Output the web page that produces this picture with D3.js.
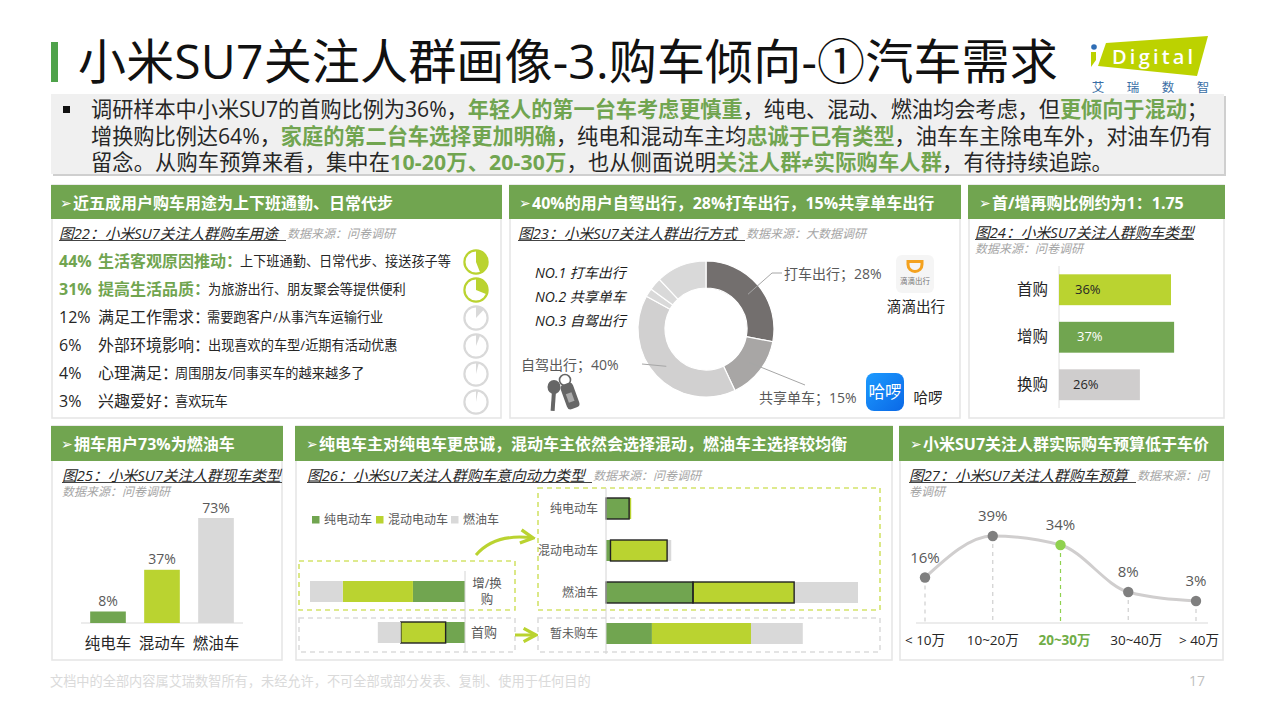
<!DOCTYPE html>
<html lang="zh-CN">
<head>
<meta charset="utf-8">
<title>小米SU7关注人群画像</title>
<script src="https://cdn.jsdelivr.net/npm/d3@7"></script>
<style>
  html, body { margin: 0; padding: 0; background: #fff; }
  svg { display: block; }
  text { font-family: "Open Sans", "Noto Sans CJK SC", sans-serif; dominant-baseline: central; }
</style>
</head>
<body>
<svg id="page" width="1267" height="713"></svg>
<script>
// ---- content ----
const pageTitle = "小米SU7关注人群画像-3.购车倾向-①汽车需求";
const summaryLines = [
  [["调研样本中小米SU7的首购比例为36%，", 0], ["年轻人的第一台车考虑更慎重", 1], ["，纯电、混动、燃油均会考虑，但", 0], ["更倾向于混动", 1], ["；", 0]],
  [["增换购比例达64%，", 0], ["家庭的第二台车选择更加明确", 1], ["，纯电和混动车主均", 0], ["忠诚于已有类型", 1], ["，油车车主除电车外，对油车仍有", 0]],
  [["留念。从购车预算来看，集中在", 0], ["10-20万、20-30万", 1], ["，也从侧面说明", 0], ["关注人群≠实际购车人群", 1], ["，有待持续追踪。", 0]]
];
const panelHeads = [
  "近五成用户购车用途为上下班通勤、日常代步",
  "40%的用户自驾出行，28%打车出行，15%共享单车出行",
  "首/增再购比例约为1：1.75",
  "拥车用户73%为燃油车",
  "纯电车主对纯电车更忠诚，混动车主依然会选择混动，燃油车主选择较均衡",
  "小米SU7关注人群实际购车预算低于车价"
];
const figureTitles = [
  "图22：小米SU7关注人群购车用途",
  "图23：小米SU7关注人群出行方式",
  "图24：小米SU7关注人群购车类型",
  "图25：小米SU7关注人群现车类型",
  "图26：小米SU7关注人群购车意向动力类型",
  "图27：小米SU7关注人群购车预算"
];
const sourceNotes = [
  ["数据来源：问卷调研"], ["数据来源：大数据调研"], ["数据来源：问卷调研"],
  ["数据来源：问卷调研"], ["数据来源：问卷调研"], ["数据来源：问", "卷调研"]
];

// purchase purposes
const purposeValues = [44, 31, 12, 6, 4, 3];
const purposeLabels = ["生活客观原因推动", "提高生活品质", "满足工作需求", "外部环境影响", "心理满足", "兴趣爱好"];
const purposeNotes = [
  "上下班通勤、日常代步、接送孩子等",
  "为旅游出行、朋友聚会等提供便利",
  "需要跑客户/从事汽车运输行业",
  "出现喜欢的车型/近期有活动优惠",
  "周围朋友/同事买车的越来越多了",
  "喜欢玩车"
];

// travel modes
const travelNames = ["打车出行", "共享单车", "自驾出行", "其他A", "其他B", "其他C"];
const travelValues = [28, 15, 40, 2, 3, 12];
const travelRanks = ["NO.1 打车出行", "NO.2 共享单车", "NO.3 自驾出行"];

// purchase type
const buyTypes = ["首购", "增购", "换购"];
const buyValues = [36, 37, 26];

// current car type
const ownTypes = ["纯电车", "混动车", "燃油车"];
const ownValues = [8, 37, 73];

// intended powertrain
const powerSeries = ["纯电动车", "混动电动车", "燃油车"];
const leftRows = ["增/换购", "首购"];
const leftElectric = [21.5, 8];
const leftHybrid = [29, 18.5];
const leftFuel = [13.5, 9.5];
const rightRows = ["纯电动车", "混动电动车", "燃油车", "暂未购车"];
const rightElectric = [6.7, 1.3, 25.2, 13.3];
const rightHybrid = [0.6, 16.4, 29.3, 28.7];
const rightFuel = [0, 1.2, 18.5, 15];

// budget
const budgetBands = ["< 10万", "10~20万", "20~30万", "30~40万", "> 40万"];
const budgetValues = [16, 39, 34, 8, 3];
const budgetFocus = "20~30万";

// ---- palette ----
const GREEN = "#71a550", LIME = "#bad330", GREY = "#d9d9d9", INK = "#262626", MUTED = "#595959";
const svg = d3.select("#page");

function label(parent, x, y, str, opts = {}) {
  return parent.append("text").attr("x", x).attr("y", y).text(str)
    .attr("font-size", opts.size || 14)
    .attr("font-weight", opts.weight || null)
    .attr("font-style", opts.italic ? "italic" : null)
    .attr("text-anchor", opts.anchor || null)
    .attr("fill", opts.fill || INK);
}

// Stretch a text's tracking so that it spans the given width.
function fitWidth(sel, width) {
  const node = sel.node();
  const gap = (width - node.getComputedTextLength()) / node.textContent.length;
  return sel.attr("letter-spacing", gap.toFixed(3));
}

// ---- page head ----
svg.append("rect").attr("x", 51).attr("y", 42).attr("width", 7).attr("height", 40).attr("fill", "#4ea24a");
fitWidth(label(svg, 78, 60, pageTitle, { size: 48, fill: "#111" }), 980);

// brand mark
const brand = svg.append("g");
brand.append("polygon").attr("points", "1106,43 1208,36 1197,76 1098,66").attr("fill", "#bcd200");
brand.append("circle").attr("cx", 1094).attr("cy", 47).attr("r", 2.8).attr("fill", "#2f6db5");
brand.append("polygon").attr("points", "1091,52 1096,52 1096,60 1091,67").attr("fill", "#bcd200");
label(brand, 1112, 56, "Digital", { size: 20, weight: 600, fill: "#fff" }).attr("letter-spacing", 3.2);
["艾", "瑞", "数", "智"].forEach((c, i) =>
  label(brand, d3.scaleLinear([0, 3], [1098, 1203])(i), 87, c, { size: 12.5, anchor: "middle", fill: "#3a6ea5" }));

// ---- summary box ----
svg.append("rect").attr("x", 53).attr("y", 96).attr("width", 1173).attr("height", 80).attr("fill", "#cfcfcf");
svg.append("rect").attr("x", 51).attr("y", 94).attr("width", 1173).attr("height", 80).attr("fill", "#f0f0f0");
svg.append("rect").attr("x", 63).attr("y", 106).attr("width", 7).attr("height", 7).attr("fill", "#111");
const summaryY = d3.scalePoint([0, 1, 2], [108, 161]);
const summaryWidths = [1117, 1121, 1022];
summaryLines.forEach((segments, i) => {
  const line = svg.append("text").attr("x", 91).attr("y", summaryY(i)).attr("font-size", 21.2).attr("fill", INK);
  segments.forEach(([str, strong]) => {
    line.append("tspan").text(str)
      .attr("font-weight", strong ? 700 : 400)
      .attr("fill", strong ? GREEN : INK);
  });
  fitWidth(line, summaryWidths[i]);
});

// ---- panel frames ----
const frames = [
  { x: 52, y: 185, w: 449, h: 233, head: 34, ax: 60, tx: 73, fx: 59, fy: 233, uw: 227, sx: 287, sy: 233 },
  { x: 510, y: 185, w: 450, h: 233, head: 34, ax: 519, tx: 532, fx: 518, fy: 233, uw: 227, sx: 746, sy: 233 },
  { x: 969, y: 185, w: 255, h: 233, head: 34, ax: 979, tx: 992, fx: 975, fy: 232, uw: 219, sx: 975, sy: 248 },
  { x: 52, y: 426, w: 230, h: 234, head: 35, ax: 61, tx: 74, fx: 62, fy: 475, uw: 220, sx: 62, sy: 491 },
  { x: 296, y: 426, w: 596, h: 234, head: 35, ax: 306, tx: 319, fx: 307, fy: 475, uw: 285, sx: 593, sy: 475 },
  { x: 900, y: 426, w: 323, h: 234, head: 35, ax: 910, tx: 923, fx: 909, fy: 475, uw: 227, sx: 1137, sy: 475 }
];
frames.forEach((f, i) => {
  svg.append("rect").attr("x", f.x).attr("y", f.y).attr("width", f.w).attr("height", f.h)
    .attr("fill", "#fff").attr("stroke", "#e6e6e6").attr("stroke-width", 1.6);
  svg.append("rect").attr("x", f.x - 1).attr("y", f.y).attr("width", f.w + 2).attr("height", f.head).attr("fill", GREEN);
  const cy = f.y + f.head / 2 + 0.5;
  label(svg, f.ax, cy, "➢", { size: 14, fill: "#fff" }).style("font-family", "DejaVu Sans");
  label(svg, f.tx, cy, panelHeads[i], { size: 16, weight: 700, fill: "#fff" });
  label(svg, f.fx, f.fy, figureTitles[i], { size: 14.75, italic: true, fill: INK });
  svg.append("line").attr("x1", f.fx).attr("x2", f.fx + f.uw).attr("y1", f.fy + 7.5).attr("y2", f.fy + 7.5)
    .attr("stroke", "#444").attr("stroke-width", 1);
  sourceNotes[i].forEach((s, k) => {
    label(svg, k ? f.fx : f.sx, f.sy + k * 16, s, { size: 12, italic: true, fill: "#a6a6a6" });
  });
});

// ---- purchase purposes ----
(function () {
  const y = d3.scalePoint(d3.range(purposeValues.length), [262, 402]);
  const noteX = [240, 208, 207, 208, 175, 175];
  const wedge = d3.arc().innerRadius(0).outerRadius(12);
  const turn = d3.scaleLinear([0, 100], [0, 2 * Math.PI]);
  purposeValues.forEach((v, i) => {
    const strong = i < 2;
    const colour = strong ? GREEN : INK;
    label(svg, 59, y(i) - 1, v + "%", { size: 16, weight: strong ? 700 : 400, fill: colour });
    label(svg, 98, y(i) - 1, purposeLabels[i] + "：", { size: 16, weight: strong ? 700 : 400, fill: colour });
    label(svg, noteX[i], y(i) - 1, purposeNotes[i], { size: 13.2 });
    const g = svg.append("g").attr("transform", `translate(476,${y(i)})`);
    const tone = strong ? LIME : "#d9d9d9";
    g.append("circle").attr("r", 11.6).attr("fill", "#fff").attr("stroke", tone).attr("stroke-width", 2.2);
    g.append("path").attr("d", wedge({ startAngle: 0, endAngle: turn(v) })).attr("fill", tone);
  });
})();

// ---- travel modes donut ----
(function () {
  const g = svg.append("g").attr("transform", "translate(706,329)");
  const colours = d3.scaleOrdinal(travelNames, ["#736f6e", "#a8a6a5", "#d1d0d0", "#d9d9d9", "#d9d9d9", "#d9d9d9"]);
  const slices = d3.pie().sort(null).value(d => d.value)(travelNames.map((name, i) => ({ name, value: travelValues[i] })));
  const arc = d3.arc().innerRadius(41).outerRadius(68);
  g.selectAll("path").data(slices).join("path")
    .attr("d", arc).attr("fill", d => colours(d.data.name))
    .attr("stroke", "#fff").attr("stroke-width", 1.2);
  const notes = [
    { i: 0, pts: [[66, -56], [76, -56]], tx: 784, ty: 273 },
    { i: 1, pts: [[99, 56]], tx: 759, ty: 397 },
    { i: 2, pts: [[-64, 35]], tx: 521, ty: 364 }
  ];
  notes.forEach(n => {
    const c = arc.centroid(slices[n.i]);
    g.append("path").attr("d", d3.line()([c, ...n.pts])).attr("fill", "none").attr("stroke", "#a6a6a6").attr("stroke-width", 1);
    label(svg, n.tx, n.ty, `${travelNames[n.i]}；${travelValues[n.i]}%`, { size: 14, fill: MUTED });
  });
  const rankY = d3.scalePoint([0, 1, 2], [272, 320]);
  travelRanks.forEach((t, i) => label(svg, 535, rankY(i), t, { size: 14, italic: true, fill: "#1a1a1a" }));

  // ride-hailing badge
  svg.append("rect").attr("x", 896).attr("y", 255).attr("width", 38).attr("height", 38).attr("rx", 6).attr("fill", "#f5f5f5");
  svg.append("path").attr("d", "M908,261.5 h14 v3 a7,7 0 0 1 -14,0 z").attr("fill", "none").attr("stroke", "#f4a21f").attr("stroke-width", 3);
  label(svg, 915, 281, "滴滴出行", { size: 7.5, anchor: "middle", fill: "#777" });
  label(svg, 916, 306, "滴滴出行", { size: 14.6, anchor: "middle" });

  // bike-share badge
  const defs = svg.append("defs");
  const grad = defs.append("linearGradient").attr("id", "bikeBadge").attr("x1", 0).attr("y1", 0).attr("x2", 1).attr("y2", 1);
  grad.append("stop").attr("offset", 0).attr("stop-color", "#1d9bff");
  grad.append("stop").attr("offset", 1).attr("stop-color", "#0a68e6");
  svg.append("rect").attr("x", 866).attr("y", 373).attr("width", 38).attr("height", 38).attr("rx", 8).attr("fill", "url(#bikeBadge)");
  label(svg, 885, 391.5, "哈啰", { size: 16.5, anchor: "middle", fill: "#fff" });
  label(svg, 928, 397, "哈啰", { size: 14.5, anchor: "middle" });

  // keys pictogram
  const keys = svg.append("g").attr("fill", "#666");
  keys.append("circle").attr("cx", 565).attr("cy", 380).attr("r", 5.5).attr("fill", "none").attr("stroke", "#666").attr("stroke-width", 1.6);
  keys.append("ellipse").attr("cx", 554).attr("cy", 387).attr("rx", 6.5).attr("ry", 7);
  keys.append("rect").attr("x", -2).attr("y", 0).attr("width", 4).attr("height", 20)
    .attr("transform", "translate(554,391) rotate(4)");
  keys.append("rect").attr("x", -6.5).attr("y", -13).attr("width", 13).attr("height", 26).attr("rx", 4)
    .attr("transform", "translate(570,396) rotate(-20)");
  keys.append("rect").attr("x", -3).attr("y", -4).attr("width", 6).attr("height", 9).attr("fill", "#aaa")
    .attr("transform", "translate(570,397) rotate(-20)");
})();

// ---- purchase type bars ----
(function () {
  const x = d3.scaleLinear([0, 36], [1059, 1171]);
  const y = d3.scaleBand(buyTypes, [266, 408.5]).paddingInner(0.35).paddingOuter(0.175);
  const fills = [LIME, GREEN, "#cfcdcd"];
  const textX = [1075, 1077, 1073];
  svg.append("line").attr("x1", x(0)).attr("x2", x(0)).attr("y1", 266).attr("y2", 408).attr("stroke", "#e0e0e0");
  buyTypes.forEach((t, i) => {
    svg.append("rect").attr("x", x(0)).attr("y", y(t)).attr("width", x(buyValues[i]) - x(0)).attr("height", y.bandwidth()).attr("fill", fills[i]);
    label(svg, textX[i], y(t) + y.bandwidth() / 2 - 1, buyValues[i] + "%", { size: 13, fill: i === 1 ? "#fff" : INK });
    label(svg, 1048, y(t) + y.bandwidth() / 2 - 1, t, { size: 15.5, anchor: "end" });
  });
})();

// ---- current car type bars ----
(function () {
  const x = d3.scaleBand(ownTypes, [81, 243]).paddingInner(0.34).paddingOuter(0.17);
  const y = d3.scaleLinear([0, 73], [623, 518]);
  const fills = [GREEN, LIME, GREY];
  svg.append("line").attr("x1", 81).attr("x2", 243).attr("y1", 623).attr("y2", 623).attr("stroke", "#d9d9d9");
  ownTypes.forEach((t, i) => {
    const v = ownValues[i];
    svg.append("rect").attr("x", x(t)).attr("y", y(v)).attr("width", x.bandwidth()).attr("height", y(0) - y(v)).attr("fill", fills[i]);
    label(svg, x(t) + x.bandwidth() / 2, y(v) - 11, v + "%", { size: 14, anchor: "middle", fill: MUTED });
    label(svg, x(t) + x.bandwidth() / 2, 643, t, { size: 15.5, anchor: "middle" });
  });
})();

// ---- intended powertrain ----
(function () {
  const fills = { e: GREEN, h: LIME, f: GREY };
  const dash = (x, y, w, h, colour) => svg.append("rect").attr("x", x).attr("y", y).attr("width", w).attr("height", h)
    .attr("fill", "none").attr("stroke", colour).attr("stroke-width", 1.6).attr("stroke-dasharray", "5 4");
  dash(299, 561, 216, 49, "#d3e36a");
  dash(299, 618, 216, 34, "#dcdcdc");
  dash(538, 488, 342, 122, "#d3e36a");
  dash(538, 618, 342, 34, "#dcdcdc");

  // legend
  const legendX = [312, 376, 451];
  [GREEN, LIME, GREY].forEach((c, i) => {
    svg.append("rect").attr("x", legendX[i]).attr("y", 516).attr("width", 7.5).attr("height", 7.5).attr("fill", c);
    label(svg, legendX[i] + 12, 519.5, powerSeries[i], { size: 12, fill: MUTED });
  });

  // stacks running leftwards from the shared axis
  const lx = d3.scaleLinear([0, 64], [465, 310]);
  const rowY = { "增/换购": 581, "首购": 622 };
  leftRows.forEach((r, i) => {
    let sum = 0;
    [["e", leftElectric[i]], ["h", leftHybrid[i]], ["f", leftFuel[i]]].forEach(([k, v]) => {
      const rect = svg.append("rect").attr("x", lx(sum + v)).attr("y", rowY[r]).attr("width", lx(sum) - lx(sum + v)).attr("height", 21).attr("fill", fills[k]);
      if (r === "首购" && k === "h") rect.attr("stroke", "#222").attr("stroke-width", 1.4);
      sum += v;
    });
  });
  svg.append("line").attr("x1", 465).attr("x2", 465).attr("y1", 571).attr("y2", 652).attr("stroke", "#d4d4d4");
  label(svg, 487, 583, "增/换", { size: 12.5, anchor: "middle", fill: MUTED });
  label(svg, 487, 599, "购", { size: 12.5, anchor: "middle", fill: MUTED });
  label(svg, 484, 632, leftRows[1], { size: 13, anchor: "middle", fill: MUTED });

  // stacks running rightwards
  const rx = d3.scaleLinear([0, 73], [606, 858]);
  const outlined = { "纯电动车": ["e"], "混动电动车": ["h"], "燃油车": ["e", "h"], "暂未购车": [] };
  const topOf = { "纯电动车": 498, "混动电动车": 540, "燃油车": 582, "暂未购车": 623 };
  rightRows.forEach((r, i) => {
    let sum = 0;
    const boxes = [];
    [["e", rightElectric[i]], ["h", rightHybrid[i]], ["f", rightFuel[i]]].forEach(([k, v]) => {
      svg.append("rect").attr("x", rx(sum)).attr("y", topOf[r]).attr("width", rx(sum + v) - rx(sum)).attr("height", 21).attr("fill", fills[k]);
      if (outlined[r].includes(k)) boxes.push([rx(sum), rx(sum + v) - rx(sum)]);
      sum += v;
    });
    boxes.forEach(([bx, bw]) => svg.append("rect").attr("x", bx).attr("y", topOf[r]).attr("width", bw).attr("height", 21)
      .attr("fill", "none").attr("stroke", "#222").attr("stroke-width", 1.4));
    label(svg, 598, topOf[r] + 10.5, r, { size: 12, anchor: "end", fill: MUTED });
  });
  svg.append("line").attr("x1", 606).attr("x2", 606).attr("y1", 488).attr("y2", 654).attr("stroke", "#d4d4d4");

  // connecting arrows
  svg.append("defs").append("marker").attr("id", "openHead").attr("viewBox", "0 0 10 10")
    .attr("refX", 8.5).attr("refY", 5).attr("markerWidth", 5.5).attr("markerHeight", 5.5).attr("orient", "auto")
    .append("path").attr("d", "M1,1 L8.5,5 L1,9").attr("fill", "none").attr("stroke", LIME).attr("stroke-width", 2);
  svg.append("path").attr("d", "M476,555 Q495,533 533,538").attr("fill", "none").attr("stroke", LIME)
    .attr("stroke-width", 3).attr("marker-end", "url(#openHead)");
  svg.append("path").attr("d", "M515,635 L536,635").attr("fill", "none").attr("stroke", LIME)
    .attr("stroke-width", 3).attr("marker-end", "url(#openHead)");
})();

// ---- budget line ----
(function () {
  const x = d3.scalePoint(budgetBands, [925, 1196]);
  const y = d3.scaleLinear([3, 39], [601, 536]);
  const base = 623;
  const tickShift = [0, 0, 4, 8, 3];
  const isFocus = b => b === budgetFocus;
  budgetBands.forEach((b, i) => {
    svg.append("line").attr("x1", x(b)).attr("x2", x(b)).attr("y1", y(budgetValues[i])).attr("y2", base)
      .attr("stroke", isFocus(b) ? "#8fd14f" : "#cfcfcf").attr("stroke-width", 1.2).attr("stroke-dasharray", "4 4");
  });
  svg.append("line").attr("x1", 916).attr("x2", 1208).attr("y1", base).attr("y2", base).attr("stroke", "#d9d9d9").attr("stroke-width", 1.2);
  const path = d3.line().x((d, i) => x(budgetBands[i])).y(d => y(d)).curve(d3.curveMonotoneX);
  svg.append("path").attr("d", path(budgetValues)).attr("fill", "none").attr("stroke", "#d0cece").attr("stroke-width", 3);
  budgetBands.forEach((b, i) => {
    const v = budgetValues[i];
    svg.append("circle").attr("cx", x(b)).attr("cy", y(v)).attr("r", 5.2).attr("fill", isFocus(b) ? "#8fd14f" : "#7f7f7f");
    label(svg, x(b), y(v) - 21, v + "%", { size: 15, anchor: "middle", fill: MUTED });
    label(svg, x(b) + tickShift[i], 640, b, { size: 13.5, anchor: "middle", weight: isFocus(b) ? 700 : 400, fill: isFocus(b) ? "#70ad47" : INK });
  });
})();

// ---- footer ----
label(svg, 50, 681, "文档中的全部内容属艾瑞数智所有，未经允许，不可全部或部分发表、复制、使用于任何目的", { size: 13.2, fill: "#dadada" });
label(svg, 1189, 680, "17", { size: 14, fill: "#bfbfbf" });
</script>
</body>
</html>
